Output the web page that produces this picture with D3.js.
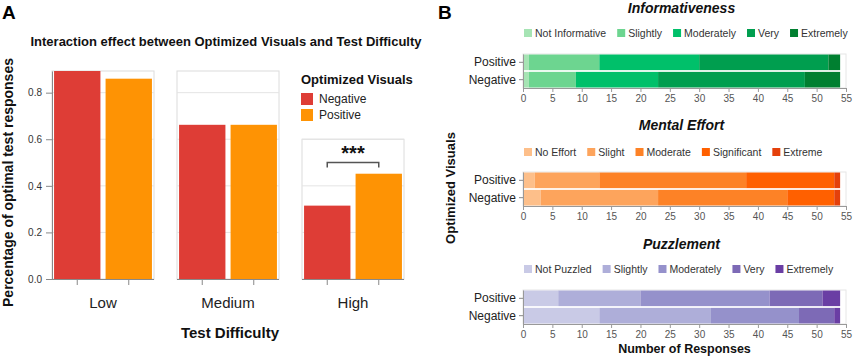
<!DOCTYPE html>
<html>
<head>
<meta charset="utf-8">
<script src="https://cdn.jsdelivr.net/npm/d3@7"></script>
<style>
  body { margin: 0; background: #fff; }
  svg { display: block; font-family: "Liberation Sans", Arial, sans-serif; }
</style>
</head>
<body>
<div class="chart"></div>
<script>
// ---- panel A data
const difficulty = ["Low", "Medium", "High"];
const visualGroups = ["Negative", "Positive"];
const optimalNegative = [0.893, 0.662, 0.315];
const optimalPositive = [0.86, 0.662, 0.452];
const yTicksA = [0, 0.2, 0.4, 0.6, 0.8];
const sigFacet = "High";
const sigLabel = "***";
const sigLevel = 0.50;

// ---- panel B data
const responseGroups = ["Positive", "Negative"];
const infoLevels = ["Not Informative", "Slightly", "Moderately", "Very", "Extremely"];
const infoPositive = [1, 12, 17, 22, 2];
const infoNegative = [1, 8, 14, 25, 6];
const effortLevels = ["No Effort", "Slight", "Moderate", "Significant", "Extreme"];
const effortPositive = [2, 11, 25, 15, 1];
const effortNegative = [3, 20, 22, 8, 1];
const puzzleLevels = ["Not Puzzled", "Slightly", "Moderately", "Very", "Extremely"];
const puzzlePositive = [6, 14, 22, 9, 3];
const puzzleNegative = [13, 19, 15, 6, 1];
const xTicksB = [0, 5, 10, 15, 20, 25, 30, 35, 40, 45, 50, 55];

// colours
const groupColors = ["#de3d36", "#fe9304"];
const greens = ["#a6e4b4", "#6dd590", "#00c06a", "#009e4f", "#007f30"];
const oranges = ["#fdbf8a", "#fda45c", "#fd8226", "#ff6000", "#e4400b"];
const purples = ["#c9cae6", "#aeaed9", "#9591cb", "#7d6ab6", "#6a3ea4"];

const width = 858, height = 357;
const svg = d3.select(".chart").append("svg")
    .attr("width", width)
    .attr("height", height);

// panel letters
svg.append("text").attr("x", 2).attr("y", 19).text("A")
    .style("font-size", "19px").style("font-weight", "bold");
svg.append("text").attr("x", 438).attr("y", 19).text("B")
    .style("font-size", "19px").style("font-weight", "bold");

// =================== panel A
const plotA = {left: 52, right: 404, top: 71, bottom: 279};

svg.append("text")
    .attr("x", 226).attr("y", 46)
    .attr("text-anchor", "middle")
    .style("font-size", "13px").style("font-weight", "bold").style("fill", "#111")
    .text("Interaction effect between Optimized Visuals and Test Difficulty");

const y = d3.scaleLinear()
    .domain([0, d3.max(optimalNegative.concat(optimalPositive))])
    .range([plotA.bottom, plotA.top]);

// one band per facet
const fx = d3.scaleBand()
    .domain(difficulty)
    .range([plotA.left, plotA.right])
    .paddingInner(0.184);

// bars within a facet
const x1 = d3.scaleBand()
    .domain(visualGroups)
    .range([0, fx.bandwidth()])
    .paddingInner(0.1)
    .paddingOuter(0.04);

const rowsA = difficulty.map((d, i) => ({
    level: d,
    values: [optimalNegative[i], optimalPositive[i]]
}));

const facet = svg.append("g").selectAll("g")
    .data(rowsA)
    .enter()
    .append("g")
    .attr("transform", d => `translate(${fx(d.level)},0)`);

// frame (the high facet is cut at 0.6 to make room for the legend)
facet.append("rect")
    .attr("x", 0)
    .attr("y", d => d.level === sigFacet ? y(0.6) : y.range()[1])
    .attr("width", fx.bandwidth())
    .attr("height", d => y(0) - (d.level === sigFacet ? y(0.6) : y.range()[1]))
    .attr("fill", "none")
    .attr("stroke", "#dcdcdc");

// gridlines
facet.each(function(d) {
    const top = d.level === sigFacet ? 0.6 : y.domain()[1];
    d3.select(this).selectAll("line.grid")
        .data(yTicksA.filter(t => t > 0 && t <= top))
        .enter()
        .append("line")
        .attr("class", "grid")
        .attr("x1", 0).attr("x2", fx.bandwidth())
        .attr("y1", t => y(t)).attr("y2", t => y(t))
        .attr("stroke", "#e4e4e4");
});

facet.selectAll("rect.bar")
    .data(d => d.values.map((v, j) => ({group: visualGroups[j], value: v, color: groupColors[j]})))
    .enter()
    .append("rect")
    .attr("class", "bar")
    .attr("x", d => x1(d.group))
    .attr("y", d => y(d.value))
    .attr("width", x1.bandwidth())
    .attr("height", d => y(0) - y(d.value))
    .attr("fill", d => d.color);

// bottom axis per facet, no labels
facet.append("g")
    .attr("transform", `translate(0,${plotA.bottom})`)
    .call(d3.axisBottom(x1).tickSize(6).tickFormat(""))
    .call(g => g.select(".domain").attr("stroke", "#888").attr("d", `M0,0.5H${fx.bandwidth()}`))
    .call(g => g.selectAll(".tick line").attr("stroke", "#888"));

facet.append("text")
    .attr("x", fx.bandwidth() / 2)
    .attr("y", 308)
    .attr("text-anchor", "middle")
    .style("font-size", "15px").style("fill", "#222")
    .text(d => d.level);

// y axis
svg.append("g")
    .attr("transform", `translate(${plotA.left},0)`)
    .call(d3.axisLeft(y).tickValues(yTicksA).tickFormat(d3.format(".1f")).tickSize(6).tickSizeOuter(0))
    .call(g => g.select(".domain").attr("stroke", "#888"))
    .call(g => g.selectAll(".tick line").attr("stroke", "#888"))
    .call(g => g.selectAll(".tick text").style("font-size", "10px").style("fill", "#333")
        .style("font-family", "Liberation Sans, Arial, sans-serif").attr("dx", "-1"));

svg.append("text")
    .attr("transform", `translate(13,${(55 + 310) / 2}) rotate(-90)`)
    .attr("text-anchor", "middle")
    .style("font-size", "14px").style("font-weight", "bold").style("fill", "#111")
    .text("Percentage of optimal test responses");

svg.append("text")
    .attr("x", 230).attr("y", 338)
    .attr("text-anchor", "middle")
    .style("font-size", "15px").style("font-weight", "bold").style("fill", "#111")
    .text("Test Difficulty");

// significance bracket
const sigX = fx(sigFacet);
const bx1 = sigX + x1("Negative") + x1.bandwidth() / 2;
const bx2 = sigX + x1("Positive") + x1.bandwidth() / 2;
const by = y(sigLevel);
svg.append("path")
    .attr("d", `M${bx1},${by + 5}V${by}H${bx2}V${by + 5}`)
    .attr("fill", "none")
    .attr("stroke", "#555")
    .attr("stroke-width", 1.5);
svg.append("text")
    .attr("x", (bx1 + bx2) / 2).attr("y", by - 3)
    .attr("text-anchor", "middle")
    .style("font-size", "20px").style("font-weight", "bold").style("fill", "#111")
    .text(sigLabel);

// legend
const legA = svg.append("g").attr("transform", "translate(301,0)");
legA.append("text").attr("x", 0).attr("y", 84)
    .style("font-size", "13px").style("font-weight", "bold").style("fill", "#111")
    .text("Optimized Visuals");
const legItems = legA.selectAll("g.item")
    .data(visualGroups)
    .enter()
    .append("g")
    .attr("transform", (d, i) => `translate(0, ${93 + i * 16})`);
legItems.append("rect")
    .attr("width", 12).attr("height", 12)
    .attr("fill", (d, i) => groupColors[i]);
legItems.append("text")
    .attr("x", 18).attr("y", 6)
    .attr("dy", "0.35em")
    .style("font-size", "12px").style("fill", "#222")
    .text(d => d);

// =================== panel B
const xB = d3.scaleLinear().domain([0, 55]).range([523, 846]);

const panels = [
    {title: "Informativeness", levels: infoLevels, pos: infoPositive, neg: infoNegative, colors: greens,
     titleY: 13, legendY: 33, band: [54, 88]},
    {title: "Mental Effort", levels: effortLevels, pos: effortPositive, neg: effortNegative, colors: oranges,
     titleY: 130, legendY: 152, band: [172, 206]},
    {title: "Puzzlement", levels: puzzleLevels, pos: puzzlePositive, neg: puzzleNegative, colors: purples,
     titleY: 249, legendY: 269, band: [290, 324]}
];

panels.forEach(p => {
    const g = svg.append("g");

    g.append("text")
        .attr("x", (xB.range()[0] + xB.range()[1]) / 2 - 3).attr("y", p.titleY)
        .attr("text-anchor", "middle")
        .style("font-size", "14px").style("font-weight", "bold").style("font-style", "italic")
        .style("fill", "#111")
        .text(p.title);

    // horizontal legend, laid out from measured label widths
    let lx = 524;
    p.levels.forEach((lev, i) => {
        g.append("rect")
            .attr("x", lx).attr("y", p.legendY - 4)
            .attr("width", 8).attr("height", 8)
            .attr("fill", p.colors[i]);
        const t = g.append("text")
            .attr("x", lx + 11).attr("y", p.legendY)
            .attr("dy", "0.35em")
            .style("font-size", "10.5px").style("fill", "#333")
            .text(lev);
        lx += 11 + t.node().getComputedTextLength() + 11;
    });

    const yB = d3.scaleBand()
        .domain(responseGroups)
        .range(p.band)
        .paddingInner(0.1)
        .paddingOuter(0.03);

    // view frame
    g.append("rect")
        .attr("x", xB.range()[0]).attr("y", p.band[0])
        .attr("width", xB.range()[1] - xB.range()[0])
        .attr("height", p.band[1] - p.band[0])
        .attr("fill", "none").attr("stroke", "#e6e6e6");

    const rows = responseGroups.map(grp => {
        const vals = grp === "Positive" ? p.pos : p.neg;
        let acc = 0;
        return vals.map((v, i) => {
            const seg = {group: grp, x0: acc, x1: acc + v, color: p.colors[i]};
            acc += v;
            return seg;
        });
    }).flat();

    g.selectAll("rect.seg")
        .data(rows)
        .enter()
        .append("rect")
        .attr("class", "seg")
        .attr("x", d => xB(d.x0))
        .attr("y", d => yB(d.group))
        .attr("width", d => xB(d.x1) - xB(d.x0))
        .attr("height", yB.bandwidth())
        .attr("fill", d => d.color);

    g.append("g")
        .attr("transform", `translate(0,${p.band[1]})`)
        .call(d3.axisBottom(xB).tickValues(xTicksB).tickSize(4).tickSizeOuter(0))
        .call(a => a.select(".domain").attr("stroke", "#999"))
        .call(a => a.selectAll(".tick line").attr("stroke", "#999"))
        .call(a => a.selectAll(".tick text").style("font-size", "10px").style("fill", "#555")
            .style("font-family", "Liberation Sans, Arial, sans-serif"));

    g.append("g")
        .attr("transform", `translate(${xB.range()[0]},0)`)
        .call(d3.axisLeft(yB).tickSize(4).tickSizeOuter(0))
        .call(a => a.select(".domain").attr("stroke", "#999"))
        .call(a => a.selectAll(".tick line").attr("stroke", "#888"))
        .call(a => a.selectAll(".tick text").style("font-size", "12px").style("fill", "#222")
            .style("font-family", "Liberation Sans, Arial, sans-serif"));
});

svg.append("text")
    .attr("transform", "translate(455,188) rotate(-90)")
    .attr("text-anchor", "middle")
    .style("font-size", "13px").style("font-weight", "bold").style("fill", "#111")
    .text("Optimized Visuals");

svg.append("text")
    .attr("x", (xB.range()[0] + xB.range()[1]) / 2).attr("y", 353)
    .attr("text-anchor", "middle")
    .style("font-size", "12.5px").style("font-weight", "bold").style("fill", "#111")
    .text("Number of Responses");
</script>
</body>
</html>
